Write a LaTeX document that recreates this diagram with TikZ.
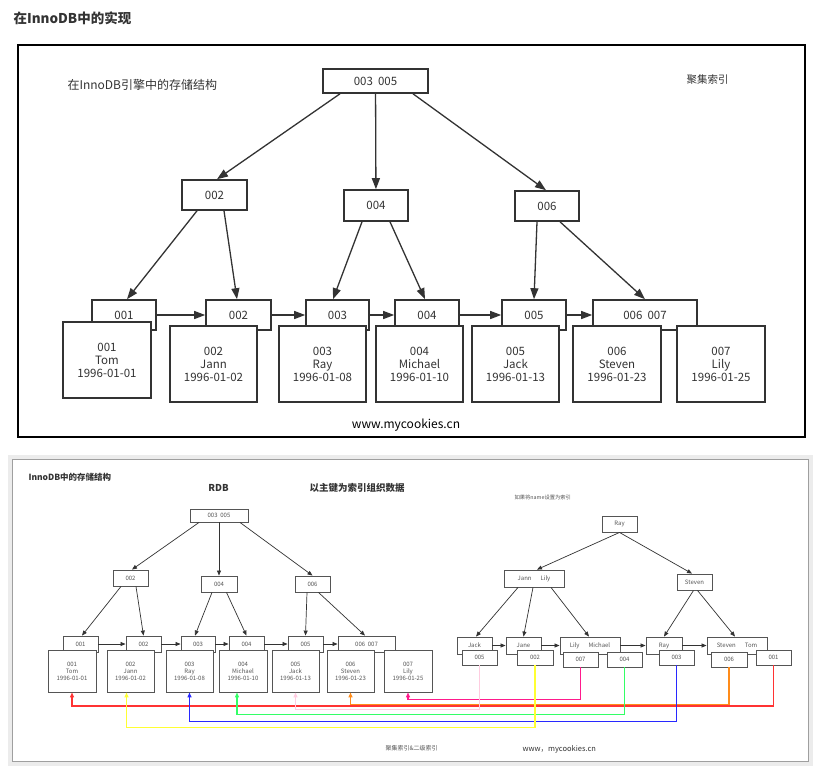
\documentclass[tikz,border=0pt]{standalone}
\usepackage{fontspec}
\setmainfont{Noto Sans CJK SC}
\usetikzlibrary{arrows.meta,calc,positioning}
\definecolor{ink}{HTML}{333333}
\definecolor{inklight}{HTML}{555555}
\definecolor{lnred}{HTML}{FF3333}
\definecolor{lnorange}{HTML}{FF8C1A}
\definecolor{lnmagenta}{HTML}{FF1A8C}
\definecolor{lnpink}{HTML}{FFCCE0}
\definecolor{lngreen}{HTML}{33FF66}
\definecolor{lnblue}{HTML}{2828FF}
\definecolor{lnyellow}{HTML}{FFFF33}

\begin{document}
\begin{tikzpicture}[x=1pt,y=-1pt]
    \tikzstyle{every node} = [text=ink]
    \tikzstyle{topbox} = [draw=ink, line width=1.6pt, inner sep=0pt, fill=white, font=\fontsize{11.5}{13}\selectfont]
    \tikzstyle{topdata} = [topbox, align=center]
    \tikzstyle{toparrow} = [draw=ink, line width=1.3pt, -{Triangle[length=11pt,width=8pt]}]
    \tikzstyle{smallbox} = [draw=inklight, line width=0.9pt, inner sep=0pt, fill=white, text=inklight, font=\fontsize{6}{7}\selectfont]
    \tikzstyle{smalldata} = [smallbox, align=center]
    \tikzstyle{smallarrow} = [draw=ink, line width=0.7pt, -{Triangle[length=5pt,width=4pt]}]
    \tikzstyle{colorlink} = [line width=1.3pt, -{Triangle[length=5pt,width=4pt]}]
    \useasboundingbox (0,0) rectangle (827,779);

    % upper picture
    \node[anchor=west, font=\fontsize{13.5}{15}\selectfont\bfseries] (title) at (10,18) {在InnoDB中的实现};
    \draw[black, line width=2.6pt] (18,45) rectangle (805,437);
    \node[anchor=west, font=\fontsize{12}{14}\selectfont] (caption) at (64,85) {在InnoDB引擎中的存储结构};
    \node[anchor=west, font=\fontsize{10.5}{12}\selectfont] (kind) at (683,80) {聚集索引};
    \node[font=\fontsize{12}{14}\selectfont, text=black] (site) at (406,425) {www.mycookies.cn};

    % place nodes
    \node[topbox, minimum width=105pt, minimum height=24pt] (root) at (375.5,81) {003\ \ 005};
    \node[topbox, minimum width=65pt, minimum height=30pt] (n002) at (214.5,195) {002};
    \node[topbox, minimum width=64pt, minimum height=31pt] (n004) at (376,205.5) {004};
    \node[topbox, minimum width=64pt, minimum height=30pt] (n006) at (547,206) {006};

    \node[topbox, minimum width=64pt, minimum height=30pt] (i001) at (124,315) {001};
    \node[topbox, minimum width=65pt, minimum height=30pt] (i002) at (238.5,315) {002};
    \node[topbox, minimum width=63pt, minimum height=30pt] (i003) at (337.5,315) {003};
    \node[topbox, minimum width=64pt, minimum height=30pt] (i004) at (427,315) {004};
    \node[topbox, minimum width=64pt, minimum height=30pt] (i005) at (534,315) {005};
    \node[topbox, minimum width=104pt, minimum height=30pt] (i006) at (645,315) {006\ \ 007};

    \node[topdata, minimum width=88pt, minimum height=76pt] (d001) at (107,360) {001\\Tom\\1996-01-01};
    \node[topdata, minimum width=87pt, minimum height=76pt] (d002) at (213.5,364) {002\\Jann\\1996-01-02};
    \node[topdata, minimum width=87pt, minimum height=76pt] (d003) at (322.5,364) {003\\Ray\\1996-01-08};
    \node[topdata, minimum width=87pt, minimum height=76pt] (d004) at (419.5,364) {004\\Michael\\1996-01-10};
    \node[topdata, minimum width=87pt, minimum height=76pt] (d005) at (515.5,364) {005\\Jack\\1996-01-13};
    \node[topdata, minimum width=88pt, minimum height=76pt] (d006) at (617,364) {006\\Steven\\1996-01-23};
    \node[topdata, minimum width=88pt, minimum height=76pt] (d007) at (721,364) {007\\Lily\\1996-01-25};

    % Connections
    \draw[toparrow] ($(root.south)+(-35.5,0)$) -- ($(n002.north)+(2.5,0)$);
    \draw[toparrow] (root) -- (n004);
    \draw[toparrow] ($(root.south)+(37.5,0)$) -- ($(n006.north)+(-1,0)$);
    \draw[toparrow] ($(n002.south)+(-17.5,0)$) -- ($(i001.north)+(3,0)$);
    \draw[toparrow] ($(n002.south)+(9.5,0)$) -- ($(i002.north)+(-1.5,0)$);
    \draw[toparrow] ($(n004.south)+(-14,0)$) -- ($(i003.north)+(-4.5,0)$);
    \draw[toparrow] ($(n004.south)+(14,0)$) -- ($(i004.north)+(-2,0)$);
    \draw[toparrow] ($(n006.south)+(-10,0)$) -- (i005.north);
    \draw[toparrow] ($(n006.south)+(13,0)$) -- (i006.north);
    \draw[toparrow] (i001) -- (i002);
    \draw[toparrow] (i002) -- (i003);
    \draw[toparrow] (i003) -- (i004);
    \draw[toparrow] (i004) -- (i005);
    \draw[toparrow] (i005) -- (i006);

    % lower picture
    \fill[gray!15] (8,455) rectangle (813,766);
    \draw[gray!75, fill=white, line width=1pt] (12,459) rectangle (808,761);
    \node[anchor=west, font=\fontsize{8.5}{10}\selectfont\bfseries] (subtitle) at (25,477) {InnoDB中的存储结构};
    \node[font=\fontsize{9.5}{11}\selectfont\bfseries] (rdb) at (218.5,488) {RDB};
    \node[anchor=west, font=\fontsize{9.5}{11}\selectfont\bfseries] (bykey) at (306,488) {以主键为索引组织数据};
    \node[anchor=west, text=inklight, font=\fontsize{5.3}{6}\selectfont] (byname) at (511,497) {如果将name设置为索引};
    \node[anchor=west, text=inklight, font=\fontsize{6}{7}\selectfont] (both) at (382,748) {聚集索引\&二级索引};
    \node[anchor=west, font=\fontsize{7.5}{9}\selectfont] (site2) at (519,749) {www，mycookies.cn};

    % primary key tree
    \node[smallbox, minimum width=58pt, minimum height=13pt] (broot) at (219,515.5) {003\ \ 005};
    \node[smallbox, minimum width=35pt, minimum height=16pt] (b002) at (130.5,578) {002};
    \node[smallbox, minimum width=36pt, minimum height=16pt] (b004) at (219,584) {004};
    \node[smallbox, minimum width=35pt, minimum height=16pt] (b006) at (312.5,584) {006};

    \node[smallbox, minimum width=35pt, minimum height=16pt] (bi001) at (80.5,644) {001};
    \node[smallbox, minimum width=35pt, minimum height=16pt] (bi002) at (143.5,644) {002};
    \node[smallbox, minimum width=34pt, minimum height=16pt] (bi003) at (198,644) {003};
    \node[smallbox, minimum width=35pt, minimum height=16pt] (bi004) at (246.5,644) {004};
    \node[smallbox, minimum width=35pt, minimum height=16pt] (bi005) at (305.5,644) {005};
    \node[smallbox, minimum width=57pt, minimum height=16pt] (bi006) at (366.5,644) {006\ \ 007};

    \node[smalldata, minimum width=48pt, minimum height=42pt] (bd001) at (72,671) {001\\Tom\\1996-01-01};
    \node[smalldata, minimum width=47pt, minimum height=42pt] (bd002) at (130.5,671) {002\\Jann\\1996-01-02};
    \node[smalldata, minimum width=47pt, minimum height=42pt] (bd003) at (189.5,671) {003\\Ray\\1996-01-08};
    \node[smalldata, minimum width=48pt, minimum height=42pt] (bd004) at (243,671) {004\\Michael\\1996-01-10};
    \node[smalldata, minimum width=47pt, minimum height=42pt] (bd005) at (295.5,671) {005\\Jack\\1996-01-13};
    \node[smalldata, minimum width=47pt, minimum height=42pt] (bd006) at (350.5,671) {006\\Steven\\1996-01-23};
    \node[smalldata, minimum width=48pt, minimum height=42pt] (bd007) at (408,671) {007\\Lily\\1996-01-25};

    \draw[smallarrow] ($(broot.south)+(-20,0)$) -- ($(b002.north)+(1.5,0)$);
    \draw[smallarrow] (broot) -- (b004);
    \draw[smallarrow] ($(broot.south)+(21,0)$) -- (b006.north);
    \draw[smallarrow] ($(b002.south)+(-9.5,0)$) -- ($(bi001.north)+(1.5,0)$);
    \draw[smallarrow] ($(b002.south)+(5.5,0)$) -- (bi002.north);
    \draw[smallarrow] ($(b004.south)+(-7,0)$) -- ($(bi003.north)+(-3,0)$);
    \draw[smallarrow] ($(b004.south)+(7.5,0)$) -- (bi004.north);
    \draw[smallarrow] ($(b006.south)+(-5.5,0)$) -- (bi005.north);
    \draw[smallarrow] ($(b006.south)+(6,0)$) -- ($(bi006.north)+(-1.5,0)$);
    \draw[smallarrow] (bi001) -- (bi002);
    \draw[smallarrow] (bi002) -- (bi003);
    \draw[smallarrow] (bi003) -- (bi004);
    \draw[smallarrow] (bi004) -- (bi005);
    \draw[smallarrow] (bi005) -- (bi006);

    % name tree
    \node[smallbox, minimum width=35pt, minimum height=16pt] (rroot) at (619.5,524) {Ray};
    \node[smallbox, minimum width=60pt, minimum height=17pt] (rjl) at (534,578.5) {Jann\hspace{9pt}Lily};
    \node[smallbox, minimum width=35pt, minimum height=16pt] (rst) at (694.5,582) {Steven};

    \node[smallbox, minimum width=35pt, minimum height=17pt] (ri1) at (474.5,645.5) {Jack};
    \node[smallbox, minimum width=35pt, minimum height=17pt] (ri2) at (523.5,645.5) {Jane};
    \node[smallbox, minimum width=60pt, minimum height=17pt] (ri3) at (590,645.5) {Lily\hspace{9pt}Michael};
    \node[smallbox, minimum width=36pt, minimum height=17pt] (ri4) at (664,645.5) {Ray};
    \node[smallbox, minimum width=60pt, minimum height=17pt] (ri5) at (737,645.5) {Steven\hspace{9pt}Tom};

    \node[smallbox, minimum width=35pt, minimum height=15pt] (rv005) at (479.5,657.5) {005};
    \node[smallbox, minimum width=36pt, minimum height=15pt] (rv002) at (535,657.5) {002};
    \node[smallbox, minimum width=35pt, minimum height=15pt] (rv007) at (580.5,659.5) {007};
    \node[smallbox, minimum width=35pt, minimum height=15pt] (rv004) at (624.5,659.5) {004};
    \node[smallbox, minimum width=35pt, minimum height=15pt] (rv003) at (676.5,657.5) {003};
    \node[smallbox, minimum width=36pt, minimum height=15pt] (rv006) at (729,659.5) {006};
    \node[smallbox, minimum width=35pt, minimum height=15pt] (rv001) at (773.5,657.5) {001};

    \draw[smallarrow] (rroot.south) -- ($(rjl.north)+(3,0)$);
    \draw[smallarrow] (rroot.south) -- ($(rst.north)+(-2.5,0)$);
    \draw[smallarrow] ($(rjl.south)+(-16,0)$) -- ($(ri1.north)+(1.5,0)$);
    \draw[smallarrow] ($(rjl.south)+(-1,0)$) -- (ri2.north);
    \draw[smallarrow] ($(rjl.south)+(17,0)$) -- ($(ri3.north)+(-1,0)$);
    \draw[smallarrow] ($(rst.south)+(-1,0)$) -- (ri4.north);
    \draw[smallarrow] ($(rst.south)+(3,0)$) -- ($(ri5.north)+(-2,0)$);
    \draw[smallarrow] (ri1) -- (ri2);
    \draw[smallarrow] (ri2) -- (ri3);
    \draw[smallarrow] (ri3) -- (ri4);
    \draw[smallarrow] (ri4) -- (ri5);

    % secondary index back to rows
    \draw[colorlink, lnred] (rv001.south) -- ++(0,40.5) -| (bd001.south);
    \draw[colorlink, lnorange] (rv006.south) -- ++(0,37) -| (bd006.south);
    \draw[colorlink, lnmagenta] (rv007.south) -- ++(0,32) -| (bd007.south);
    \draw[colorlink, lnpink] (rv005.south) -- ++(0,44) -| (bd005.south);
    \draw[colorlink, lngreen] (rv004.south) -- ++(0,47) -| ($(bd004.south)+(-6,0)$);
    \draw[colorlink, lnblue] (rv003.south) -- ++(0,56) -| (bd003.south);
    \draw[colorlink, lnyellow] (rv002.south) -- ++(0,62) -| ($(bd002.south)+(-4,0)$);
\end{tikzpicture}
\end{document}
